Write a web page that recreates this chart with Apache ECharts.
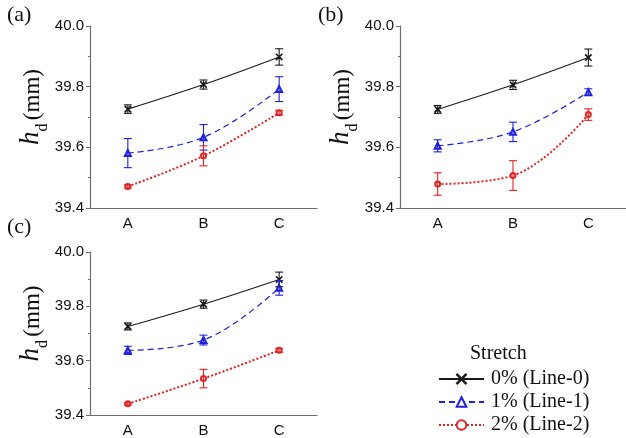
<!DOCTYPE html>
<html>
<head>
<meta charset="utf-8">
<script src="https://cdn.jsdelivr.net/npm/echarts@6/dist/echarts.min.js"></script>
<style>
  html, body { margin: 0; padding: 0; background: #fff; }
  #main { width: 626px; height: 438px; }
</style>
</head>
<body>
<div id="main"></div>
<script>
const categories = ['A', 'B', 'C'];
const yTicks = [39.4, 39.6, 39.8, 40.0];
const seriesNames = ['0% (Line-0)', '1% (Line-1)', '2% (Line-2)'];

// panel (a)
const line0A = [39.726, 39.807, 39.898];
const err0A = [0.014, 0.015, 0.027];
const line1A = [39.581, 39.633, 39.792];
const err1A = [0.048, 0.042, 0.041];
const line2A = [39.471, 39.572, 39.714];
const err2A = [0.005, 0.033, 0.008];

// panel (b)
const line0B = [39.725, 39.806, 39.896];
const err0B = [0.013, 0.015, 0.028];
const line1B = [39.605, 39.651, 39.782];
const err1B = [0.020, 0.032, 0.011];
const line2B = [39.479, 39.507, 39.708];
const err2B = [0.037, 0.049, 0.019];

// panel (c)
const line0C = [39.726, 39.808, 39.899];
const err0C = [0.013, 0.015, 0.027];
const line1C = [39.638, 39.676, 39.868];
const err1C = [0.015, 0.018, 0.027];
const line2C = [39.441, 39.534, 39.638];
const err2C = [0.004, 0.034, 0.007];

const colors = ['#1a1a1a', '#1f1fe0', '#e32222'];
const lineTypes = ['solid', [6, 4], [2, 2]];
const lineWidths = [1.1, 1.2, 2];
// thin "x" marker
const crossPath = 'path://M0,0.7L0.7,0L5,4.3L9.3,0L10,0.7L5.7,5L10,9.3L9.3,10L5,5.7L0.7,10L0,9.3L4.3,5Z';
const symbols = [crossPath, 'emptyTriangle', 'emptyCircle'];
const symbolSizes = [6, 6, 5];

const panels = [
  { label: '(a)', lines: [line0A, line1A, line2A], errs: [err0A, err1A, err2A] },
  { label: '(b)', lines: [line0B, line1B, line2B], errs: [err0B, err1B, err2B] },
  { label: '(c)', lines: [line0C, line1C, line2C], errs: [err0C, err1C, err2C] },
];
const grids = [
  { left: 90, top: 26, width: 227, height: 182 },
  { left: 400, top: 26, width: 227, height: 182 },
  { left: 90, top: 252, width: 227, height: 181 },
];
const labelPos = [[7, 4], [318, 4], [7, 216]];

const axisGrey = '#6e6e6e';
const sans = 'Liberation Sans, Arial, sans-serif';
const serif = 'Liberation Serif, Times New Roman, serif';

const errorBar = (color) => (params, api) => {
  const x = api.value(0);
  const lo = api.coord([x, api.value(1)]);
  const hi = api.coord([x, api.value(2)]);
  const cap = 4;
  const style = { stroke: color, lineWidth: 1.1 };
  return {
    type: 'group',
    children: [
      { type: 'line', shape: { x1: lo[0], y1: lo[1], x2: hi[0], y2: hi[1] }, style },
      { type: 'line', shape: { x1: lo[0] - cap, y1: lo[1], x2: lo[0] + cap, y2: lo[1] }, style },
      { type: 'line', shape: { x1: hi[0] - cap, y1: hi[1], x2: hi[0] + cap, y2: hi[1] }, style },
    ],
  };
};

const xAxis = grids.map((g, i) => ({
  type: 'category',
  gridIndex: i,
  data: categories,
  boundaryGap: true,
  axisLine: { lineStyle: { color: axisGrey, width: 1.2 } },
  axisTick: { alignWithLabel: true, length: 4, lineStyle: { color: axisGrey } },
  axisLabel: { color: '#111', fontFamily: sans, fontSize: 15, margin: 8 },
}));

const yAxis = grids.map((g, i) => ({
  type: 'value',
  gridIndex: i,
  min: yTicks[0],
  max: yTicks[yTicks.length - 1],
  interval: 0.2,
  name: '{h|h}{d|d} {mm|(mm)}',
  nameLocation: 'middle',
  nameGap: 38,
  nameTextStyle: {
    padding: [0, 0, 0, 20],
    rich: {
      h: { fontFamily: serif, fontStyle: 'italic', fontSize: 27, color: '#111', verticalAlign: 'bottom' },
      d: { fontFamily: serif, fontSize: 16, color: '#111', verticalAlign: 'bottom', padding: [0, 0, -6, 0] },
      mm: { fontFamily: serif, fontSize: 23, color: '#111', verticalAlign: 'bottom' },
    },
  },
  axisLine: { show: true, lineStyle: { color: axisGrey, width: 1.2 } },
  axisTick: { show: true, length: 4, lineStyle: { color: axisGrey } },
  minorTick: { show: true, splitNumber: 2, length: 2, lineStyle: { color: axisGrey } },
  splitLine: { show: false },
  axisLabel: {
    color: '#111', fontFamily: sans, fontSize: 15, margin: 6,
    formatter: (v) => v.toFixed(1),
  },
}));

const series = [];
panels.forEach((p, i) => {
  p.lines.forEach((vals, k) => {
    series.push({
      name: seriesNames[k],
      type: 'line',
      xAxisIndex: i,
      yAxisIndex: i,
      data: vals,
      smooth: 0.4,
      symbol: symbols[k],
      symbolSize: symbolSizes[k],
      itemStyle: { color: colors[k], borderColor: colors[k], borderWidth: 1.1 },
      lineStyle: { color: colors[k], type: lineTypes[k], width: lineWidths[k] },
      z: 3,
    });
    series.push({
      type: 'custom',
      xAxisIndex: i,
      yAxisIndex: i,
      renderItem: errorBar(colors[k]),
      data: vals.map((v, j) => [j, v - p.errs[k][j], v + p.errs[k][j]]),
      z: 4,
      silent: true,
    });
  });
});

const graphic = panels.map((p, i) => ({
  type: 'text',
  left: labelPos[i][0],
  top: labelPos[i][1],
  style: { text: p.label, font: '22px ' + serif, fill: '#111' },
}));
graphic.push({
  type: 'text',
  left: 470,
  top: 344,
  style: { text: 'Stretch', font: '20px ' + serif, fill: '#111' },
});

const chart = echarts.init(document.getElementById('main'), null, { renderer: 'canvas' });
chart.setOption({
  animation: false,
  backgroundColor: '#fff',
  grid: grids,
  xAxis,
  yAxis,
  series,
  graphic,
  legend: {
    orient: 'vertical',
    left: 438,
    top: 369,
    padding: 0,
    itemWidth: 45,
    itemHeight: 12,
    itemGap: 3,
    itemStyle: { borderWidth: 1.6 },
    data: seriesNames,
    textStyle: { fontFamily: serif, fontSize: 20, lineHeight: 20, color: '#111', padding: [0, 0, 0, 2] },
  },
});
</script>
</body>
</html>
